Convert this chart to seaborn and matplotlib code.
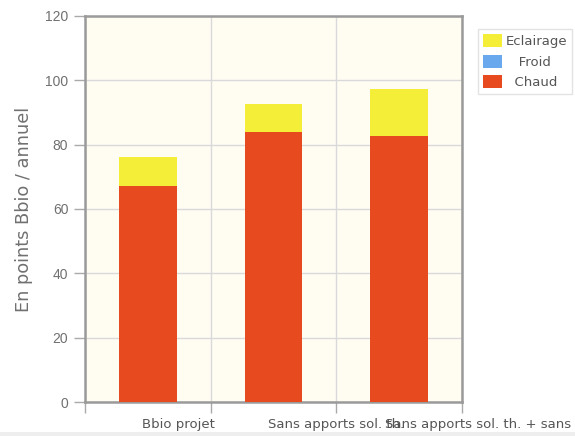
import matplotlib
matplotlib.use("Agg")
import matplotlib.pyplot as plt
from matplotlib.patches import Patch, Rectangle
import seaborn as sns
import pandas as pd
import numpy as np

# Data: Bbio points per scenario, split by usage
scenarios = ["Bbio projet", "Sans apports sol. th.", "Sans apports sol. th. + sans"]
chaud = [67.2, 83.8, 82.7]
froid = [0.0, 0.0, 0.0]
eclairage = [8.8, 8.7, 14.5]

series_names = ["Eclairage", "Froid", "Chaud"]
legend_labels = ["Eclairage", "   Froid", "  Chaud"]
colors = {"Chaud": "#E84A1F", "Froid": "#6AA8EE", "Eclairage": "#F4EE38"}

yticks = [0, 20, 40, 60, 80, 100, 120]

sns.set_theme(style="white")
plt.rcParams["font.family"] = ["DejaVu Sans"]

df = pd.DataFrame({"scenario": scenarios, "Chaud": chaud, "Froid": froid, "Eclairage": eclairage})
df["cum_chaud"] = df["Chaud"]
df["cum_froid"] = df["Chaud"] + df["Froid"]
df["cum_ecl"] = df["cum_froid"] + df["Eclairage"]

fig = plt.figure(figsize=(5.75, 4.36), dpi=100)
fig.patch.set_facecolor("white")
ax = fig.add_axes([85 / 575, 1 - 402.3 / 436, (462 - 85) / 575, (402.3 - 15.7) / 436])
ax.set_facecolor("#FFFCF2")

# Stacked bars: draw cumulative totals from the top layer down
bar_w = 0.46
for col, name in [("cum_ecl", "Eclairage"), ("cum_froid", "Froid"), ("cum_chaud", "Chaud")]:
    sns.barplot(data=df, x="scenario", y=col, color=colors[name], width=bar_w,
                saturation=1, ax=ax, zorder=3, linewidth=0, errorbar=None)

ax.set_xlim(-0.5, len(scenarios) - 0.5)
ax.set_ylim(0, 120)
ax.set_yticks(yticks)
ax.set_yticklabels([str(v) for v in yticks], family=["Liberation Sans", "DejaVu Sans"])

# Category boundaries carry the vertical grid lines and the tick marks
ax.set_xticks(np.arange(-0.5, len(scenarios), 1.0))
ax.set_xticklabels([])
ax.set_xticks([-0.05, 0.955, 1.89], minor=True)
ax.set_xticklabels(scenarios, minor=True, ha="left")
ax.tick_params(axis="x", which="major", length=8, width=1, color="#AAAAAA", direction="out")
ax.tick_params(axis="x", which="minor", length=0, pad=11, labelsize=9.5, labelcolor="#555555")
ax.tick_params(axis="y", length=8, width=1, color="#AAAAAA", direction="out",
               labelsize=10, labelcolor="#707070", pad=4)
ax.tick_params(bottom=True, left=True, which="both")

ax.grid(True, which="major", color="#D9D9D9", linewidth=1, zorder=0)
ax.set_axisbelow(True)

for s in ax.spines.values():
    s.set_color("#9A9A9A")
    s.set_linewidth(1.8)
    s.set_visible(True)

ax.set_xlabel("")
ax.set_ylabel("En points Bbio / annuel", fontsize=12.8, color="#707070", labelpad=9)

handles = [Patch(facecolor=colors[n], edgecolor="none") for n in series_names]
leg = fig.legend(handles, legend_labels, loc="upper left",
                 bbox_to_anchor=(478 / 575, 1 - 29 / 436), frameon=True,
                 fancybox=False, fontsize=9.5, labelspacing=0.5, handlelength=1.44,
                 handleheight=1.12, handletextpad=0.25, borderpad=0.4, borderaxespad=0)
leg.get_frame().set_facecolor("white")
leg.get_frame().set_edgecolor("#DDDDDD")
leg.get_frame().set_linewidth(1)
for t in leg.get_texts():
    t.set_color("#555555")

# light strip along the bottom edge
fig.patches.append(Rectangle((0, 0), 1, 4 / 436, transform=fig.transFigure,
                             facecolor="#EEEEEE", edgecolor="none", zorder=0))

fig.savefig("out.png", dpi=100)
